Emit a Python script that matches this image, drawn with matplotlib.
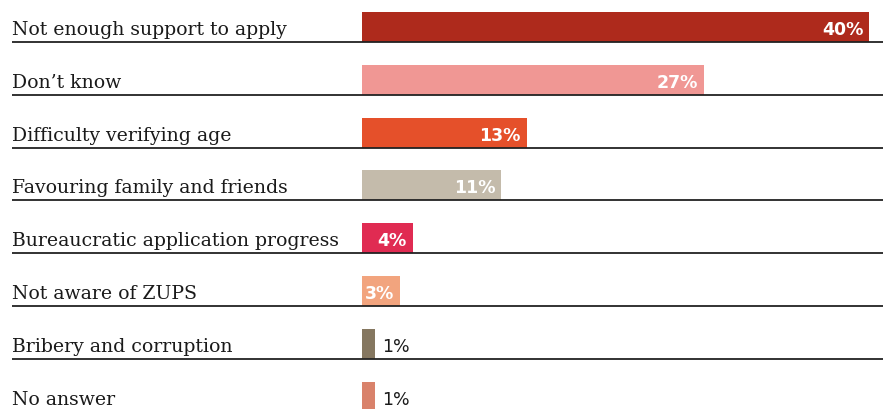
import matplotlib.pyplot as plt
from matplotlib.transforms import blended_transform_factory

# --- data ---
reasons = [
    'Not enough support to apply',
    'Don\u2019t know',
    'Difficulty verifying age',
    'Favouring family and friends',
    'Bureaucratic application progress',
    'Not aware of ZUPS',
    'Bribery and corruption',
    'No answer',
]
shares = [40, 27, 13, 11, 4, 3, 1, 1]
colors = ['#AE2A1C', '#F09794', '#E5502A', '#C4BBAB',
          '#E02B52', '#F2A47E', '#857760', '#D9826B']

# --- layout (in pixels of an 883x410 canvas) ---
W, H = 883, 410
px_per_pct = 12.68
bar_x0 = 362
row_h = 52.8
first_center = 28
bar_h = 30

fig = plt.figure(figsize=(W / 100, H / 100), dpi=100)
ax = fig.add_axes([0, 0, 1, 1])
ax.set_xlim(-bar_x0 / px_per_pct, (W - bar_x0) / px_per_pct)
ax.set_ylim((H - first_center) / row_h, -first_center / row_h)
ax.axis('off')

trans = blended_transform_factory(ax.transAxes, ax.transData)
half = bar_h / row_h / 2
label_font = 'DejaVu Serif'

for i, (name, val, col) in enumerate(zip(reasons, shares, colors)):
    ax.barh(i, val, height=2 * half, left=0, color=col, linewidth=0)
    base = i + half - 8 / row_h
    ax.text(12 / W, base, name, transform=trans, fontsize=13.6,
            family=label_font, color='#1a1a1a', va='baseline', ha='left')
    ax.plot([12 / W, 1], [i + half, i + half], transform=trans,
            color='#222222', lw=1.3, solid_capstyle='butt')
    if val >= 3:
        ax.text(val - 6 / px_per_pct, base, f'{val}%', fontsize=12.5,
                fontweight='bold', family='DejaVu Sans', color='white',
                va='baseline', ha='right')
    else:
        ax.text(val + 7 / px_per_pct, base, f'{val}%',
                fontsize=12.5, family='DejaVu Sans', color='#1a1a1a',
                va='baseline', ha='left')

fig.savefig('out.png', dpi=100)
